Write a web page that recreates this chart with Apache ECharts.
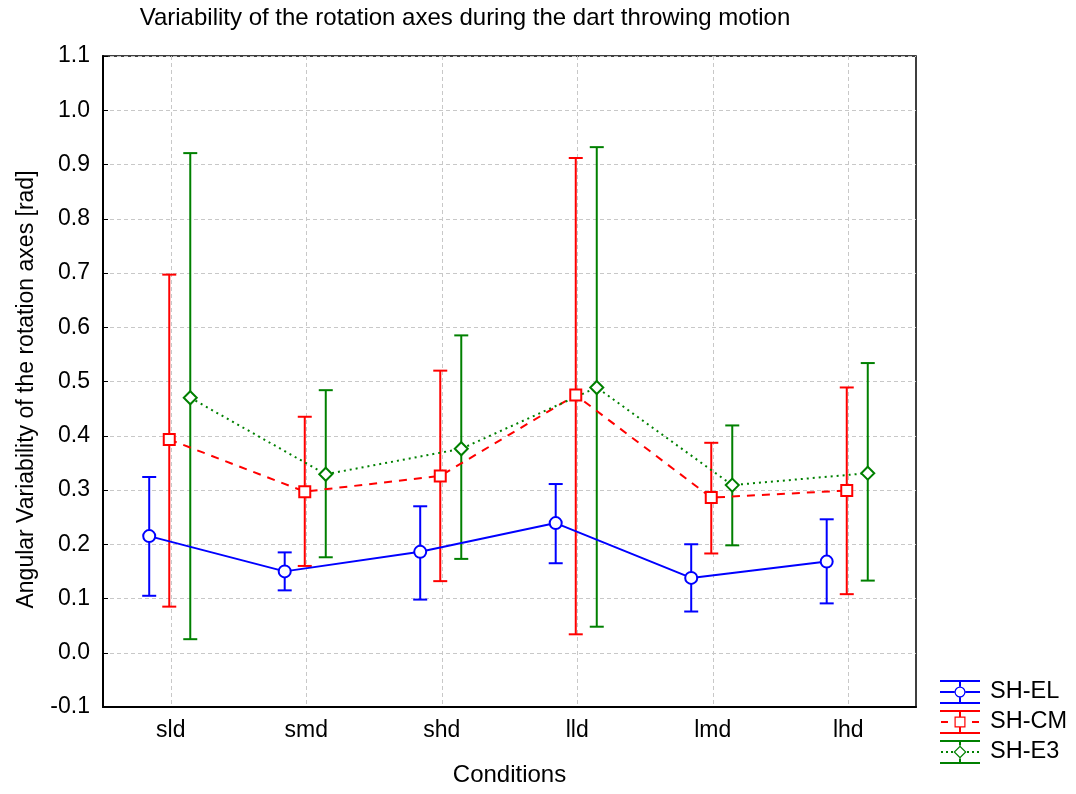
<!DOCTYPE html>
<html>
<head>
<meta charset="utf-8">
<script src="https://cdn.jsdelivr.net/npm/echarts@6/dist/echarts.min.js"></script>
<style>
html,body{margin:0;padding:0;background:#fff;}
#chart{width:1076px;height:794px;}
</style>
</head>
<body>
<div id="chart"></div>
<script>
// ---- data ----
const categories = ['sld', 'smd', 'shd', 'lld', 'lmd', 'lhd'];
const seriesNames = ['SH-EL', 'SH-CM', 'SH-E3'];

const elMean = [0.215, 0.150, 0.186, 0.239, 0.138, 0.168];
const elLow  = [0.105, 0.115, 0.098, 0.165, 0.076, 0.091];
const elHigh = [0.324, 0.185, 0.270, 0.311, 0.200, 0.246];

const cmMean = [0.393, 0.297, 0.326, 0.475, 0.286, 0.299];
const cmLow  = [0.085, 0.160, 0.132, 0.034, 0.183, 0.108];
const cmHigh = [0.697, 0.435, 0.520, 0.912, 0.387, 0.489];

const e3Mean = [0.470, 0.329, 0.376, 0.489, 0.309, 0.331];
const e3Low  = [0.025, 0.176, 0.173, 0.048, 0.198, 0.133];
const e3High = [0.921, 0.484, 0.585, 0.932, 0.419, 0.534];

const yMin = -0.1, yMax = 1.1, yStep = 0.1;

// ---- styling / layout ----
const FONT = '"Liberation Sans", Arial, sans-serif';
const COLORS = ['#0000ff', '#ff0000', '#008000'];
const X_SHIFT = [-0.159, -0.011, 0.144];   // in category units (dodge)
const LINE_TYPES = ['solid', [8, 7], [2, 4]];
const SYMBOLS = ['emptyCircle', 'emptyRect', 'emptyDiamond'];
const SYMBOL_SIZES = [12, 11, 13];
const ICONS = [
  'path://M0 0H40V2H0Z M0 22H40V24H0Z M19 2H21V6.5H19Z M19 17.5H21V22H19Z M0 11H14.5V13H0Z M25.5 11H40V13H25.5Z M25.5 12A5.5 5.5 0 1 0 14.5 12A5.5 5.5 0 1 0 25.5 12Z M24.3 12A4.3 4.3 0 1 1 15.7 12A4.3 4.3 0 1 1 24.3 12Z',
  'path://M0 0H40V2H0Z M0 22H40V24H0Z M19 2H21V7H19Z M19 17H21V22H19Z M1 11H8V13H1Z M32 11H39V13H32Z M14.5 6.5H25.5V17.5H14.5Z M15.7 7.7V16.3H24.3V7.7Z',
  'path://M0 0H40V2H0Z M0 22H40V24H0Z M19 2H21V5.5H19Z M19 18.5H21V22H19Z M1 11H3V13H1Z M6 11H8V13H6Z M11 11H13V13H11Z M27 11H29V13H27Z M32 11H34V13H32Z M37 11H39V13H37Z M20 5.5L26.5 12L20 18.5L13.5 12Z M20 7.2L15.2 12L20 16.8L24.8 12Z'
];

const means = [elMean, cmMean, e3Mean];
const lows = [elLow, cmLow, e3Low];
const highs = [elHigh, cmHigh, e3High];

const series = [];
// error bars (custom series)
seriesNames.forEach((name, s) => {
  series.push({
    type: 'custom',
    name: name + ' err',
    xAxisIndex: 1,
    z: 2,
    silent: true,
    encode: { x: 0, y: [1, 2] },
    data: categories.map((c, i) => [i + X_SHIFT[s], lows[s][i], highs[s][i]]),
    renderItem: function (params, api) {
      const x = api.value(0);
      const pLo = api.coord([x, api.value(1)]);
      const pHi = api.coord([x, api.value(2)]);
      const w = 7;
      const st = { stroke: COLORS[s], lineWidth: 2 };
      return {
        type: 'group',
        children: [
          { type: 'line', shape: { x1: pLo[0], y1: pLo[1], x2: pHi[0], y2: pHi[1] }, style: st },
          { type: 'line', shape: { x1: pLo[0] - w, y1: pLo[1], x2: pLo[0] + w, y2: pLo[1] }, style: st },
          { type: 'line', shape: { x1: pHi[0] - w, y1: pHi[1], x2: pHi[0] + w, y2: pHi[1] }, style: st }
        ]
      };
    }
  });
});
// means (line series)
seriesNames.forEach((name, s) => {
  series.push({
    type: 'line',
    name: name,
    xAxisIndex: 1,
    z: 3,
    data: categories.map((c, i) => [i + X_SHIFT[s], means[s][i]]),
    symbol: SYMBOLS[s],
    symbolSize: SYMBOL_SIZES[s],
    showAllSymbol: true,
    lineStyle: { color: COLORS[s], width: 2, type: LINE_TYPES[s] },
    itemStyle: { color: COLORS[s], borderWidth: 1.2 },
    emphasis: { disabled: true },
    animation: false
  });
});

const chart = echarts.init(document.getElementById('chart'), null, { renderer: 'canvas' });
chart.setOption({
  animation: false,
  backgroundColor: '#ffffff',
  textStyle: { fontFamily: FONT },
  title: {
    text: 'Variability of the rotation axes during the dart throwing motion',
    left: 465,
    top: 6,
    padding: 0,
    textAlign: 'center',
    textStyle: { fontFamily: FONT, fontSize: 24, fontWeight: 'normal', color: '#000' }
  },
  legend: {
    orient: 'vertical',
    left: 940,
    top: 680,
    padding: 0,
    itemWidth: 40,
    itemHeight: 24,
    itemGap: 6,
    selectedMode: false,
    textStyle: { fontFamily: FONT, fontSize: 23.5, color: '#000', padding: [0, 0, 0, 5] },
    data: seriesNames.map((n, s) => ({ name: n, icon: ICONS[s], itemStyle: { color: COLORS[s], borderWidth: 0 } }))
  },
  grid: {
    left: 103, right: 160, top: 56, bottom: 87,
    show: true, borderColor: '#000', borderWidth: 1.5, backgroundColor: 'transparent'
  },
  xAxis: [
    {
      type: 'category',
      data: categories,
      boundaryGap: true,
      name: 'Conditions',
      nameLocation: 'middle',
      nameGap: 56,
      nameTextStyle: { fontFamily: FONT, fontSize: 24, color: '#000' },
      axisLine: { onZero: false, lineStyle: { color: '#000', width: 2 } },
      axisTick: { alignWithLabel: true, inside: true, length: 5, lineStyle: { color: '#000', width: 1 } },
      axisLabel: { fontFamily: FONT, fontSize: 23, color: '#000', margin: 12 },
      splitLine: { show: true, alignWithLabel: true, lineStyle: { color: '#c8c8c8', type: [4, 3], width: 1 } }
    },
    {
      type: 'value',
      min: -0.5,
      max: 5.5,
      show: false,
      axisLine: { onZero: false },
      splitLine: { show: false }
    }
  ],
  yAxis: {
    type: 'value',
    min: yMin,
    max: yMax,
    interval: yStep,
    name: 'Angular Variability of the rotation axes [rad]',
    nameLocation: 'middle',
    nameGap: 65,
    nameTextStyle: { fontFamily: FONT, fontSize: 23, color: '#000', padding: [0, 16, 0, 0] },
    axisLine: { show: true, onZero: false, lineStyle: { color: '#000', width: 2 } },
    axisTick: { show: true, inside: true, length: 5, lineStyle: { color: '#000', width: 1 } },
    axisLabel: { fontFamily: FONT, fontSize: 23, color: '#000', margin: 13, formatter: v => v.toFixed(1) },
    splitLine: { show: true, lineStyle: { color: '#c8c8c8', type: [4, 3], width: 1 } }
  },
  series: series
});
</script>
</body>
</html>
